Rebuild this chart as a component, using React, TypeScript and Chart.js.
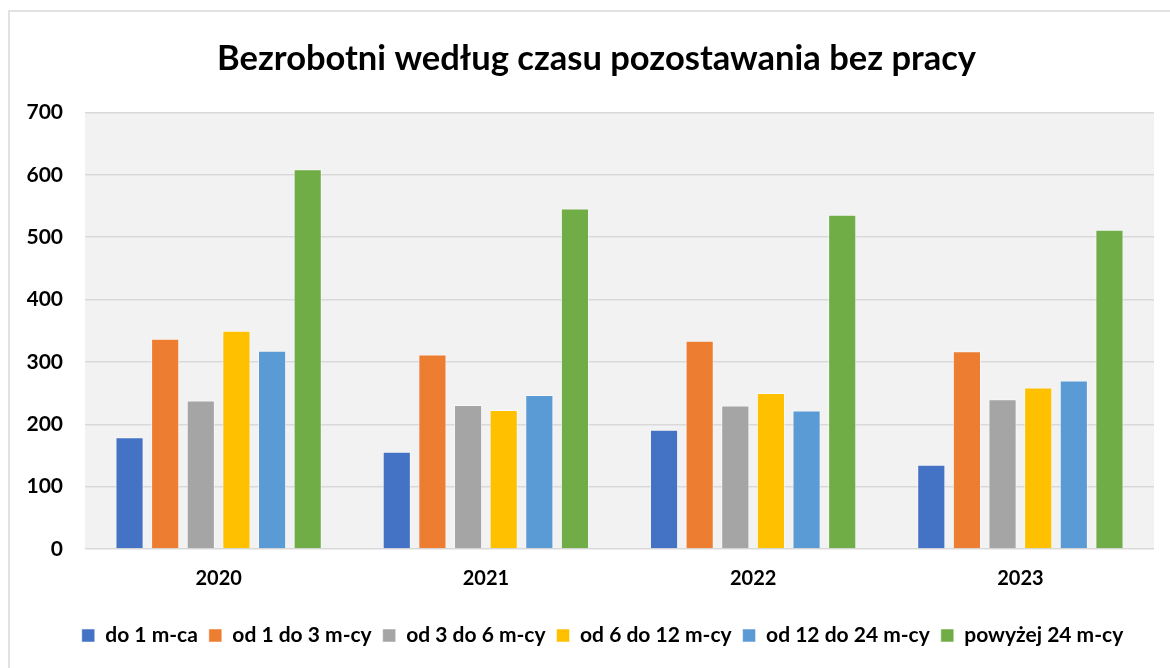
import React, { useEffect, useRef } from "react";
import { Chart, registerables } from "chart.js";

Chart.register(...registerables);

const titleText = "Bezrobotni według czasu pozostawania bez pracy";
const years = ["2020", "2021", "2022", "2023"];
const seriesNames = [
  "do 1 m-ca",
  "od 1 do 3 m-cy",
  "od 3 do 6 m-cy",
  "od 6 do 12 m-cy",
  "od 12 do 24 m-cy",
  "powyżej 24 m-cy",
];
const do1 = [179, 156, 191, 135];
const od1do3 = [337, 312, 334, 317];
const od3do6 = [238, 231, 230, 240];
const od6do12 = [350, 223, 250, 259];
const od12do24 = [318, 247, 222, 270];
const powyzej24 = [609, 546, 536, 512];
const colors = ["#4472C4", "#ED7D31", "#A5A5A5", "#FFC000", "#5B9BD5", "#70AD47"];
const yTicks = [0, 100, 200, 300, 400, 500, 600, 700];

const FONT = "Lato, 'Open Sans', sans-serif";

const framePlugin = {
  id: "frame",
  afterLayout(chart: any) {
    if (chart.titleBlock) {
      chart.titleBlock.left += 6;
      chart.titleBlock.right += 6;
    }
    if (chart.legend) {
      chart.legend.left += 12;
      chart.legend.right += 12;
    }
  },
  beforeDraw(chart: any) {
    const { ctx, chartArea, width, height } = chart;
    ctx.save();
    ctx.fillStyle = "#ffffff";
    ctx.fillRect(0, 0, width, height);
    ctx.strokeStyle = "#d9d9d9";
    ctx.lineWidth = 1.5;
    ctx.strokeRect(9, 11, width + 20, height + 20);
    ctx.fillStyle = "#f2f2f2";
    ctx.fillRect(chartArea.left, chartArea.top, chartArea.right - chartArea.left, chartArea.bottom - chartArea.top);
    ctx.restore();
  },
  afterDraw(chart: any) {
    const { ctx, chartArea, width } = chart;
    ctx.save();
    ctx.fillStyle = "#ffffff";
    ctx.fillRect(chartArea.right, chartArea.top - 3, width - chartArea.right, chartArea.bottom - chartArea.top + 6);
    ctx.restore();
  },
};

export default function App() {
  const ref = useRef<HTMLCanvasElement>(null);
  useEffect(() => {
    if (!ref.current) return;
    const all = [do1, od1do3, od3do6, od6do12, od12do24, powyzej24];
    const chart = new Chart(ref.current, {
      type: "bar",
      data: {
        labels: years,
        datasets: all.map((d, i) => ({
          label: seriesNames[i],
          data: d,
          backgroundColor: colors[i],
          borderColor: "rgba(255,255,255,0.5)",
          borderWidth: 1,
          barPercentage: 0.79,
          categoryPercentage: 0.8,
        })),
      },
      options: {
        animation: false,
        responsive: false,
        maintainAspectRatio: false,
        layout: { padding: { top: 10, left: 27, right: 16, bottom: 12 } },
        plugins: {
          title: {
            display: true,
            text: titleText,
            color: "#000",
            font: { family: FONT, size: 34.5, weight: "bold" },
            padding: { top: 28, bottom: 33 },
          },
          legend: {
            position: "bottom",
            labels: {
              color: "#000",
              font: { family: FONT, size: 21, weight: "bold" },
              boxWidth: 13,
              boxHeight: 13,
              padding: 11,
            },
          },
          tooltip: { enabled: false },
        },
        scales: {
          x: {
            grid: { display: false },
            border: { display: false },
            ticks: { color: "#000", font: { family: FONT, size: 20, weight: "bold" }, padding: 10 },
            afterFit: (s: any) => {
              s.height += 13;
            },
          },
          y: {
            min: 0,
            max: 700,
            afterBuildTicks: (s: any) => {
              s.ticks = yTicks.map((v) => ({ value: v }));
            },
            afterFit: (s: any) => {
              s.width = 58;
            },
            grid: { color: "#d9d9d9", lineWidth: 1.5, drawTicks: false },
            border: { display: false },
            ticks: { color: "#000", font: { family: FONT, size: 21, weight: "bold" }, padding: 22 },
          },
        },
      },
      plugins: [framePlugin],
    });
    return () => chart.destroy();
  }, []);
  return (
    <div style={{ position: "fixed", left: 0, top: 0, width: 1170, height: 668 }}>
      <canvas ref={ref} width={1170} height={668} style={{ display: "block" }} />
    </div>
  );
}
